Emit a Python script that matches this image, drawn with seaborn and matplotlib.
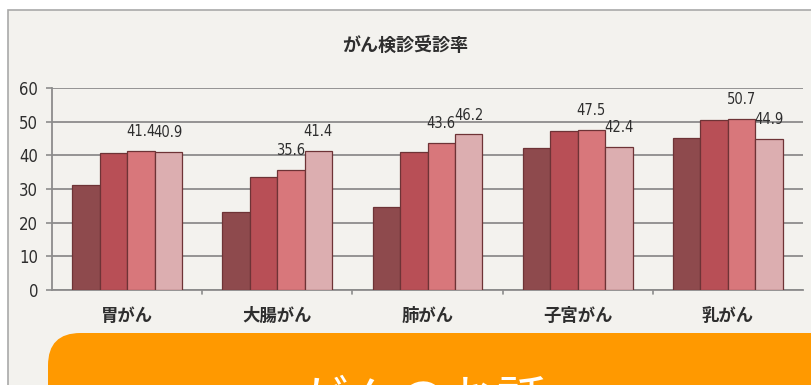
import matplotlib
matplotlib.use("Agg")
import matplotlib.pyplot as plt
from matplotlib.patches import FancyBboxPatch, Rectangle
import seaborn as sns
import pandas as pd

# がん検診受診率 (%) — five cancer types, four survey rounds
categories = ["胃がん", "大腸がん", "肺がん", "子宮がん", "乳がん"]
series = ["第1回", "第2回", "第3回", "第4回"]
round1 = [31.2, 23.3, 24.6, 42.3, 45.2]
round2 = [40.6, 33.5, 40.9, 47.3, 50.5]
round3 = [41.4, 35.6, 43.6, 47.5, 50.7]
round4 = [40.9, 41.4, 46.2, 42.4, 44.9]
yticks = [0, 10, 20, 30, 40, 50, 60]
title = "がん検診受診率"
banner_text = "がんのお話"

colors = ["#8e4a4d", "#b84f56", "#d8777b", "#dcaeb0"]
paper = "#f3f2ee"
ink = "#2e2e2e"

df = pd.DataFrame({
    "category": categories * 4,
    "series": [s for s in series for _ in categories],
    "rate": round1 + round2 + round3 + round4,
})

sns.set_theme(style="white")
plt.rcParams["font.family"] = ["Noto Sans CJK JP", "DejaVu Sans"]

W, H = 811, 385
fig = plt.figure(figsize=(W / 100, H / 100), dpi=100)
fig.patch.set_facecolor("white")

# paper panel with a thin grey frame
fig.patches.append(Rectangle((8 / W, -0.1), 1.1, (H - 10) / H + 0.1,
                             transform=fig.transFigure, facecolor=paper,
                             edgecolor="#a9a9a9", linewidth=1.2, zorder=-5))

ax = fig.add_axes([52 / W, (H - 290) / H, 751 / W, 202 / H])
ax.set_zorder(2)
ax.set_facecolor(paper)

sns.barplot(data=df, x="category", y="rate", hue="series", order=categories,
            hue_order=series, palette=colors, width=0.73, saturation=1,
            edgecolor="#6e3336", linewidth=0.9, legend=False, ax=ax, zorder=3)

ax.set_ylim(0, 60)
ax.set_xlim(-0.5, len(categories) - 0.5)
ax.set_yticks(yticks)
ax.yaxis.grid(True, color="#8c8c8c", linewidth=1.3, zorder=0)
ax.set_axisbelow(True)
ax.set_xlabel("")
ax.set_ylabel("")

num_font = ["DejaVu Sans"]
ax.set_yticklabels([str(t) for t in yticks], family=num_font,
                   fontstretch="condensed", fontsize=12, color=ink)
ax.tick_params(axis="y", length=4, width=1.2, color="#8c8c8c", pad=6, left=True)

# category labels between boundary ticks
ax.set_xticks(range(len(categories)))
ax.set_xticklabels(categories, fontsize=12.5, fontweight="bold", color=ink)
ax.tick_params(axis="x", length=0, pad=12)
for b in range(1, len(categories)):
    ax.plot([b - 0.5, b - 0.5], [0, -1.2], color="#8c8c8c", lw=1.2,
            clip_on=False, zorder=4)

for side in ["top", "right"]:
    ax.spines[side].set_visible(False)
for side in ["left", "bottom"]:
    ax.spines[side].set_color("#8c8c8c")
    ax.spines[side].set_linewidth(1.3)

# value labels on the last two rounds
for container, vals in zip(ax.containers[2:], [round3, round4]):
    for bar, v in zip(container, vals):
        ax.annotate(f"{v:.1f}", (bar.get_x() + bar.get_width() / 2, v),
                    xytext=(0, 14), textcoords="offset points", ha="center",
                    va="center", family=num_font, fontstretch="condensed",
                    fontsize=10.5, color=ink, zorder=5)

fig.text(405 / W, 1 - 45 / H, title, ha="center", va="center", fontsize=13,
         fontweight="bold", color=ink)

# orange banner at the bottom
fig.patches.append(FancyBboxPatch((48 / W, (H - 385 - 40) / H), 1.0,
                                  (385 + 40 - 333) / H,
                                  boxstyle="round,pad=0,rounding_size=0.04",
                                  transform=fig.transFigure,
                                  facecolor="#ff9900", edgecolor="none",
                                  zorder=6, mutation_aspect=W / H))
fig.text(298 / W, 1 - 377 / H, banner_text, ha="left", va="top",
         fontsize=36, color="white", zorder=7)

fig.savefig("out.png", dpi=100, facecolor=fig.get_facecolor())
